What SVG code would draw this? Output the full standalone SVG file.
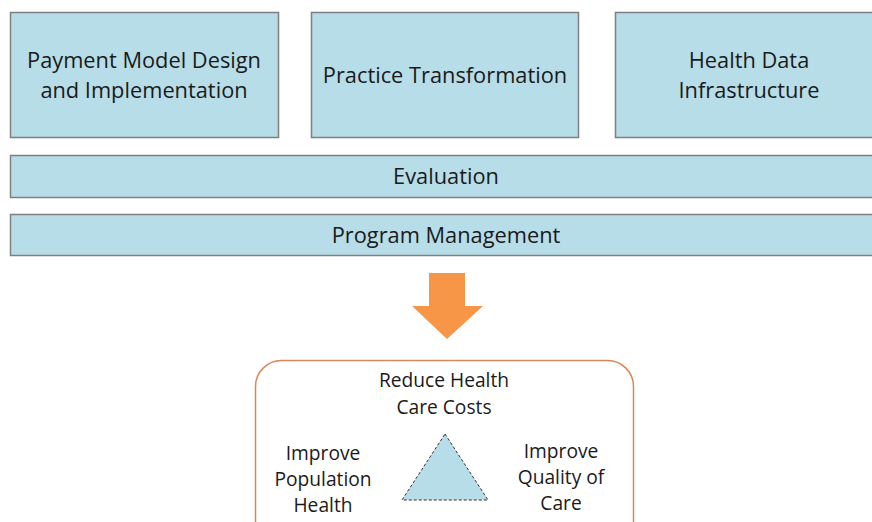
<svg xmlns="http://www.w3.org/2000/svg" width="872" height="522" viewBox="0 0 872 522">
<style>
.box{fill:#B7DDE8;stroke:#7F7F7F;stroke-width:1.5}
.t{font-family:"Open Sans","Liberation Sans",sans-serif;font-size:21.8px;fill:#1A1A1A;text-anchor:middle}
.s{font-family:"Open Sans","Liberation Sans",sans-serif;font-size:19.2px;fill:#1A1A1A;text-anchor:middle}
</style>
<rect width="872" height="522" fill="#FFFFFF"/>
<g id="payment">
<rect class="box" x="10.5" y="12.5" width="268" height="125"/>
<text class="t" x="144" y="68">Payment Model Design</text>
<text class="t" x="144" y="98">and Implementation</text>
</g>
<g id="practice">
<rect class="box" x="311.5" y="12.5" width="267" height="125"/>
<text class="t" x="445" y="83">Practice Transformation</text>
</g>
<g id="healthdata">
<rect class="box" x="615.5" y="12.5" width="270" height="125"/>
<text class="t" x="749" y="68">Health Data</text>
<text class="t" x="749" y="98">Infrastructure</text>
</g>
<g id="evaluation">
<rect class="box" x="10.5" y="155.5" width="875" height="42"/>
<text class="t" x="446" y="184">Evaluation</text>
</g>
<g id="program">
<rect class="box" x="10.5" y="214.5" width="875" height="41"/>
<text class="t" x="446" y="243">Program Management</text>
</g>
<g id="connectors">
<polygon points="429,273 465,273 465,306 483,306 447,339 412,306 429,306" fill="#F79646"/>
</g>
<g id="goals">
<rect x="255.5" y="360.5" width="378" height="190" rx="26" fill="#FFFFFF" stroke="#D9875A" stroke-width="1.5"/>
<text class="s" x="444" y="387">Reduce Health</text>
<text class="s" x="444" y="414">Care Costs</text>
<text class="s" x="323" y="460">Improve</text>
<text class="s" x="323" y="486">Population</text>
<text class="s" x="323" y="512">Health</text>
<text class="s" x="561" y="458">Improve</text>
<text class="s" x="561" y="484">Quality of</text>
<text class="s" x="561" y="510">Care</text>
<polygon points="445,434 488,500 402,500" fill="#B7DDE8" stroke="#333333" stroke-width="1" stroke-dasharray="3,2"/>
</g>
</svg>
